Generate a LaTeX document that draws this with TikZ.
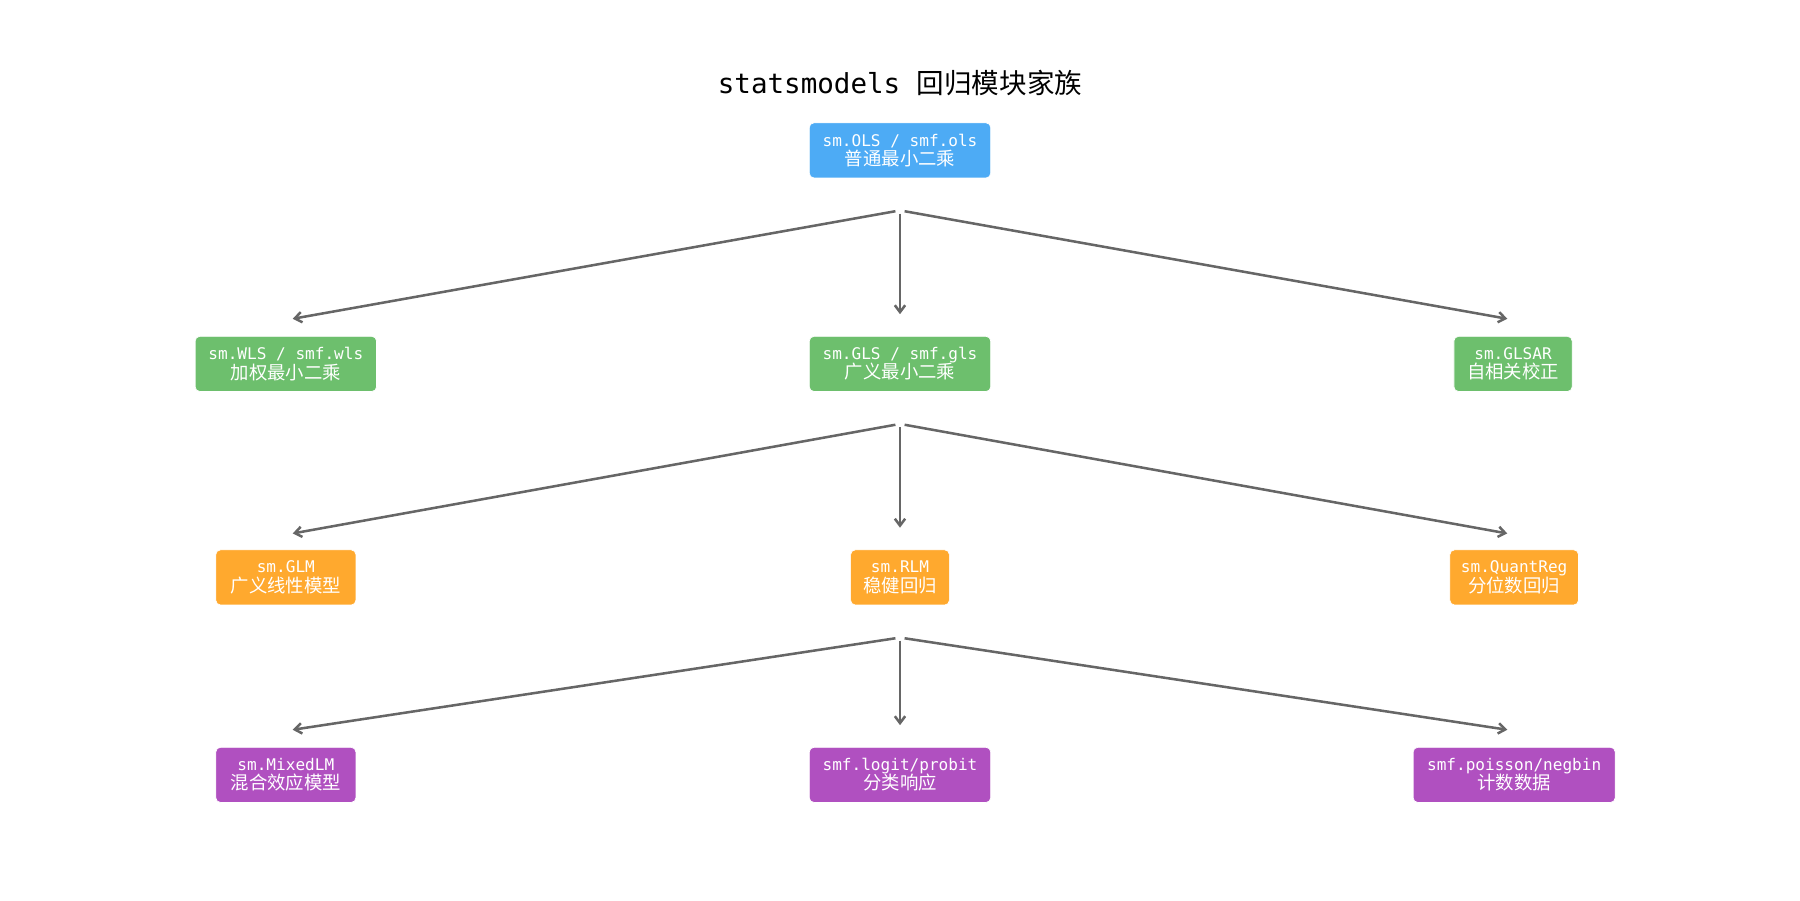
\documentclass[tikz,border=0pt]{standalone}
\usepackage{fontspec}
\usetikzlibrary{arrows.meta}
\setmainfont{DejaVu Sans Mono}
\newfontfamily\cjk{Noto Sans CJK SC}
\definecolor{cb}{HTML}{4DABF5}
\definecolor{cg}{HTML}{6DBF6D}
\definecolor{co}{HTML}{FFA92E}
\definecolor{cp}{HTML}{B050C0}
\definecolor{ca}{HTML}{666666}
\begin{document}
\begin{tikzpicture}[x=1pt,y=-1pt,
 box/.style={draw=white,line width=0.6pt,rounded corners=4pt,text=white,align=center,minimum height=48pt,inner sep=2pt,font=\fontsize{14}{17}\selectfont},
 arr/.style={draw=ca,line width=2.2pt,-{Straight Barb[length=6pt,width=9pt]}}]
\useasboundingbox (0,0) rectangle (1568,784);
\node[font=\fontsize{24}{28}\selectfont] (t) at (784,72) {statsmodels {\cjk 回归模块家族}};
\newcommand{\bx}[6]{\node[box,fill=#2,minimum width=#3pt] (#1) at #4 {#5\\{\cjk\fontsize{16}{19}\selectfont #6}};}
\bx{ols}{cb}{158}{(784,131)}{sm.OLS / smf.ols}{普通最小二乘}
\bx{wls}{cg}{158}{(249,317)}{sm.WLS / smf.wls}{加权最小二乘}
\bx{gls}{cg}{158}{(784,317)}{sm.GLS / smf.gls}{广义最小二乘}
\bx{glsar}{cg}{103}{(1318,317)}{sm.GLSAR}{自相关校正}
\bx{glm}{co}{122}{(249,503)}{sm.GLM}{广义线性模型}
\bx{rlm}{co}{86}{(784,503)}{sm.RLM}{稳健回归}
\bx{qr}{co}{112}{(1319,503)}{sm.QuantReg}{分位数回归}
\bx{mix}{cp}{122}{(249,675)}{sm.MixedLM}{混合效应模型}
\bx{logit}{cp}{158}{(784,675)}{smf.logit/probit}{分类响应}
\bx{pois}{cp}{176}{(1319,675)}{smf.poisson/negbin}{计数数据}
\coordinate (a1) at (780,184); \coordinate (a2) at (784,186); \coordinate (a3) at (788,184);
\coordinate (b1) at (780,370); \coordinate (b2) at (784,372); \coordinate (b3) at (788,370);
\coordinate (c1) at (780,556); \coordinate (c2) at (784,558); \coordinate (c3) at (788,556);
\draw[arr] (a1) -- ([xshift=6pt,yshift=15pt]wls.north);
\draw[arr] (a2) -- ([yshift=19pt]gls.north);
\draw[arr] (a3) -- ([xshift=-5pt,yshift=15pt]glsar.north);
\draw[arr] (b1) -- ([xshift=6pt,yshift=14pt]glm.north);
\draw[arr] (b2) -- ([yshift=19pt]rlm.north);
\draw[arr] (b3) -- ([xshift=-6pt,yshift=14pt]qr.north);
\draw[arr] (c1) -- ([xshift=6pt,yshift=15pt]mix.north);
\draw[arr] (c2) -- ([yshift=19pt]logit.north);
\draw[arr] (c3) -- ([xshift=-6pt,yshift=15pt]pois.north);
\end{tikzpicture}
\end{document}
